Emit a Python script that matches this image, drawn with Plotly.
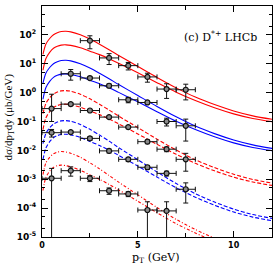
import plotly.graph_objects as go

# ---------------- data ----------------
pt_curve = [0.05, 0.2, 0.4, 0.6, 0.8, 1.0, 1.25, 1.5, 2, 2.5, 3, 3.5, 4, 5, 6, 7, 8, 9, 10, 11, 12]

red_solid_hi = [21.1, 47.3, 75, 101, 119, 130, 133, 127, 101, 71.6, 47.3, 30.5, 19.3, 8.04, 3.35, 1.46, 0.70, 0.385, 0.232, 0.157, 0.119]
red_solid_lo = [5.96, 15.0, 24.8, 34.3, 40.3, 44.2, 45.2, 43.2, 35.9, 27.2, 20.7, 15.0, 10.4, 4.84, 2.21, 1.035, 0.531, 0.299, 0.184, 0.127, 0.0989]

blue_solid_hi = [2.09, 4.68, 7.41, 10.0, 11.7, 12.9, 13.2, 12.6, 10.0, 7.08, 4.68, 3.02, 1.91, 0.794, 0.331, 0.145, 0.0692, 0.038, 0.0229, 0.0155, 0.0117]
blue_solid_lo = [0.589, 1.48, 2.45, 3.39, 3.98, 4.37, 4.47, 4.27, 3.55, 2.69, 2.04, 1.48, 1.02, 0.479, 0.219, 0.102, 0.0525, 0.0295, 0.0182, 0.0126, 0.00977]

red_dash_hi = [0.186, 0.417, 0.661, 0.891, 1.047, 1.148, 1.175, 1.119, 0.879, 0.611, 0.395, 0.250, 0.154, 0.0615, 0.0245, 0.0103, 0.00474, 0.00253, 0.00149, 0.000984, 0.000736]
red_dash_lo = [0.0525, 0.132, 0.219, 0.302, 0.355, 0.389, 0.398, 0.379, 0.312, 0.232, 0.173, 0.122, 0.0828, 0.0371, 0.0162, 0.00728, 0.0036, 0.00196, 0.00118, 0.0008, 0.000612]

blue_dash_hi = [0.0170, 0.0380, 0.0603, 0.0813, 0.0955, 0.105, 0.107, 0.102, 0.0789, 0.0537, 0.0339, 0.0209, 0.0125, 0.00474, 0.00179, 0.000714, 0.000316, 0.000163, 9.25e-5, 6.0e-5, 4.41e-5]
blue_dash_lo = [0.00479, 0.0120, 0.0200, 0.0275, 0.0324, 0.0355, 0.0363, 0.0345, 0.028, 0.0204, 0.0148, 0.0102, 0.00673, 0.00286, 0.00119, 0.000506, 0.000239, 0.000126, 7.35e-5, 4.88e-5, 3.66e-5]

red_dot_hi = [1.45e-3, 3.63e-3, 5.75e-3, 7.59e-3, 8.71e-3, 9.12e-3, 8.71e-3, 7.94e-3, 5.75e-3, 3.72e-3, 2.29e-3, 1.35e-3, 7.94e-4, 2.88e-4, 1.05e-4, 4.07e-5, 1.82e-5, 9.12e-6, 5.01e-6, 3.09e-6, 2.14e-6]
red_dot_lo = [4.07e-4, 1.15e-3, 1.91e-3, 2.57e-3, 2.95e-3, 3.09e-3, 2.95e-3, 2.69e-3, 2.04e-3, 1.41e-3, 1.0e-3, 6.61e-4, 4.27e-4, 1.74e-4, 6.92e-5, 2.88e-5, 1.38e-5, 7.08e-6, 3.98e-6, 2.51e-6, 1.78e-6]

# measured points (LHCb D*+), pT bin centres, half width 0.5 GeV
pt_a = [2.5, 3.5, 4.5, 5.5, 6.5, 7.5]
val_a = [63, 15.9, 8.6, 3.5, 1.33, 1.26]
err_a = [30, 6.5, 2.5, 1.2, 0.7, 0.7]

pt_b = [1.5, 2.5, 3.5, 4.5, 5.5, 6.5, 7.5]
val_b = [4.5, 3.2, 1.73, 0.565, 0.456, 0.100, 0.071]
err_b = [1.8, 0.3, 0.25, 0.12, 0.05, 0.03, 0.05]

pt_c = [0.5, 1.5, 2.5, 3.5, 4.5, 5.5, 6.5, 7.5]
val_c = [0.28, 0.40, 0.24, 0.142, 0.064, 0.020, 0.011, 0.0049]
err_c_up = [0.6, 0.05, 0.02, 0.015, 0.008, 0.003, 0.002, 0.003]
err_c_dn = [0.18, 0.05, 0.02, 0.015, 0.008, 0.003, 0.002, 0.003]

pt_d = [0.5, 1.5, 2.5, 3.5, 4.5, 5.5, 6.5, 7.5]
val_d = [0.041, 0.043, 0.026, 0.0096, 0.0049, 0.0026, 0.0016, 0.00045]
err_d = [0.012, 0.005, 0.004, 0.0015, 0.0008, 0.0004, 0.0003, 0.0003]

pt_e = [0.5, 1.5, 2.5, 3.5, 4.5, 5.5, 6.5]
val_e = [0.00108, 0.00198, 0.00108, 0.0004, 0.00031, 0.000086, 0.00008]
err_e = [0.0013, 0.0007, 0.00025, 0.0001, 0.00006, 0.00008, 0.000086]

half_bin = 0.5

y_tickvals = [1e-5, 1e-4, 1e-3, 1e-2, 1e-1, 1e0, 1e1, 1e2, 1e3]
y_ticktext = ["10<sup>-5</sup>", "10<sup>-4</sup>", "10<sup>-3</sup>", "10<sup>-2</sup>", "10<sup>-1</sup>",
              "10<sup>0</sup>", "10<sup>1</sup>", "10<sup>2</sup>", "10<sup>3</sup>"]
x_tickvals = [0, 5, 10]

# ---------------- figure ----------------
fig = go.Figure()

RED = "#ff0000"
BLUE = "#0000ff"
curve_sets = [
    (red_solid_hi, RED, "solid"), (red_solid_lo, RED, "solid"),
    (blue_solid_hi, BLUE, "solid"), (blue_solid_lo, BLUE, "solid"),
    (red_dash_hi, RED, "4px,2px"), (red_dash_lo, RED, "4px,2px"),
    (blue_dash_hi, BLUE, "4px,2px"), (blue_dash_lo, BLUE, "4px,2px"),
    (red_dot_hi, RED, "3px,2px,1px,2px"), (red_dot_lo, RED, "3px,2px,1px,2px"),
]
for vals, col, dash in curve_sets:
    fig.add_trace(go.Scatter(x=pt_curve, y=vals, mode="lines",
                             line=dict(color=col, width=1.1, dash=dash, shape="spline", smoothing=0.8),
                             hoverinfo="skip", showlegend=False))

def add_points(xs, ys, eu, ed=None):
    ey = dict(type="data", array=eu, color="#111", thickness=1, width=2.5)
    if ed is not None:
        ey["symmetric"] = False
        ey["arrayminus"] = ed
    fig.add_trace(go.Scatter(
        x=xs, y=ys, mode="markers",
        marker=dict(symbol="circle", size=5, color="#8a8a8a", line=dict(width=1.2, color="#111")),
        error_x=dict(type="constant", value=half_bin, color="#111", thickness=1, width=2.5),
        error_y=ey, showlegend=False))

add_points(pt_a, val_a, err_a)
add_points(pt_b, val_b, err_b)
add_points(pt_c, val_c, err_c_up, err_c_dn)
add_points(pt_d, val_d, err_d)
add_points(pt_e, val_e, err_e)

axis_common = dict(showline=True, linecolor="black", linewidth=1, mirror="ticks",
                   ticks="inside", tickcolor="black", showgrid=False, zeroline=False,
                   automargin=False)

fig.update_xaxes(range=[0, 12], tickvals=x_tickvals, ticklen=6,
                 minor=dict(dtick=2.5, tick0=0, ticks="inside", ticklen=4, tickcolor="black", showgrid=False),
                 tickfont=dict(family="DejaVu Sans", size=8, color="black", weight="bold"),
                 **axis_common)
fig.update_yaxes(type="log", range=[-5, 3], tickvals=y_tickvals, ticktext=y_ticktext, ticklen=6,
                 minor=dict(dtick="D2", ticks="inside", ticklen=3, tickcolor="black", showgrid=False),
                 tickfont=dict(family="DejaVu Sans", size=9, color="black", weight="bold"),
                 ticklabelstandoff=3,
                 **axis_common)

fig.add_annotation(text="d\u03c3/dp<sub>T</sub>dy (\u03bcb/GeV)", xref="paper", yref="paper",
                   x=-0.145, y=0.52, xanchor="center", yanchor="middle", textangle=-90,
                   showarrow=False, font=dict(family="Liberation Serif", size=11, color="black"))
fig.add_annotation(text="p<sub>T</sub> (GeV)", xref="paper", yref="paper",
                   x=0.496, y=-0.09, xanchor="center", yanchor="middle",
                   showarrow=False, font=dict(family="DejaVu Serif", size=11, color="black"))
fig.add_annotation(text="(c) D<sup>*+</sup> LHCb", xref="paper", yref="paper",
                   x=0.774, y=0.87, xanchor="center", yanchor="middle",
                   showarrow=False, font=dict(family="DejaVu Serif", size=11, color="black"))

fig.update_layout(width=274, height=269, margin=dict(l=42, r=2, t=6, b=32),
                  paper_bgcolor="white", plot_bgcolor="white", showlegend=False)

fig.write_html("out.html", config={"displayModeBar": False},
               post_script="document.body.style.margin='0px';")
